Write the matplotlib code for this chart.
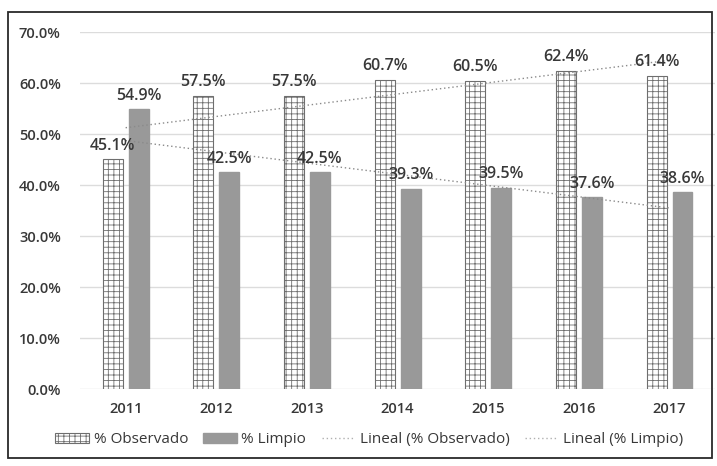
import matplotlib.pyplot as plt
import numpy as np
from matplotlib.patches import Patch, Rectangle
from matplotlib.lines import Line2D
from matplotlib.ticker import PercentFormatter

# data
years = ["2011", "2012", "2013", "2014", "2015", "2016", "2017"]
observado = [45.1, 57.5, 57.5, 60.7, 60.5, 62.4, 61.4]
limpio = [54.9, 42.5, 42.5, 39.3, 39.5, 37.6, 38.6]

plt.rcParams['font.family'] = ['Open Sans', 'DejaVu Sans']
plt.rcParams['hatch.linewidth'] = 0.6
plt.rcParams['hatch.color'] = '#8c8c8c'

txt = '#383838'
grey_bar = '#999999'
trend_col = '#8a8a8a'

fig = plt.figure(figsize=(7.17, 4.66), dpi=100)
ax = fig.add_axes([0.112, 0.165, 0.885, 0.766])

x = np.arange(len(years))
w = 0.22
off = 0.143

ax.bar(x - off, observado, w, color='white', edgecolor='#6e6e6e',
       linewidth=0.8, hatch='+++', zorder=3)
ax.bar(x + off, limpio, w, color=grey_bar, edgecolor=grey_bar, zorder=3)

# linear trend lines over the category centres
for vals in (observado, limpio):
    k, b = np.polyfit(x, vals, 1)
    ax.plot(x, k * x + b, color=trend_col, lw=1.0, ls=(0, (1, 2)), zorder=4)

# value labels above the bars
for i in range(len(years)):
    ax.annotate(f"{observado[i]:.1f}%", (x[i] - off, observado[i]),
                xytext=(0, 4), textcoords='offset points', ha='center',
                va='bottom', fontsize=11.5, color=txt, fontweight='semibold', zorder=5)
    ax.annotate(f"{limpio[i]:.1f}%", (x[i] + off, limpio[i]),
                xytext=(0, 4), textcoords='offset points', ha='center',
                va='bottom', fontsize=11.5, color=txt, fontweight='semibold', zorder=5)

ax.set_ylim(0, 70)
ax.set_xlim(-0.5, 6.5)
ax.set_yticks(np.arange(0, 71, 10))
ax.yaxis.set_major_formatter(PercentFormatter(decimals=1))
ax.set_xticks(x)
ax.set_xticklabels(years)
ax.tick_params(length=0, labelsize=10.5, colors=txt, pad=9)
ax.tick_params(axis='y', pad=14)
for lab in ax.get_xticklabels() + ax.get_yticklabels():
    lab.set_fontweight('semibold')
ax.grid(axis='y', color='#dcdcdc', lw=1.0, zorder=0)
for s in ax.spines.values():
    s.set_visible(False)

handles = [
    Patch(facecolor='white', edgecolor='#6e6e6e', hatch='+++', lw=0.8),
    Patch(facecolor=grey_bar, edgecolor=grey_bar),
    Line2D([], [], color='#b0b0b0', lw=1.0, ls=(0, (1, 2))),
    Line2D([], [], color='#b0b0b0', lw=1.0, ls=(0, (1, 2))),
]
labels = ["% Observado", "% Limpio", "Lineal (% Observado)", "Lineal (% Limpio)"]
fig.legend(handles, labels, loc='center', bbox_to_anchor=(0.515, 0.056),
           ncol=4, frameon=False, fontsize=11, labelcolor=txt,
           handlelength=2.2, handletextpad=0.3, columnspacing=1.0)

# chart border
fig.patches.append(Rectangle((0.011, 0.017), 0.982, 0.958, transform=fig.transFigure,
                             fill=False, edgecolor='#2a2a2a', lw=1.3))

plt.savefig("out.png", dpi=100)
